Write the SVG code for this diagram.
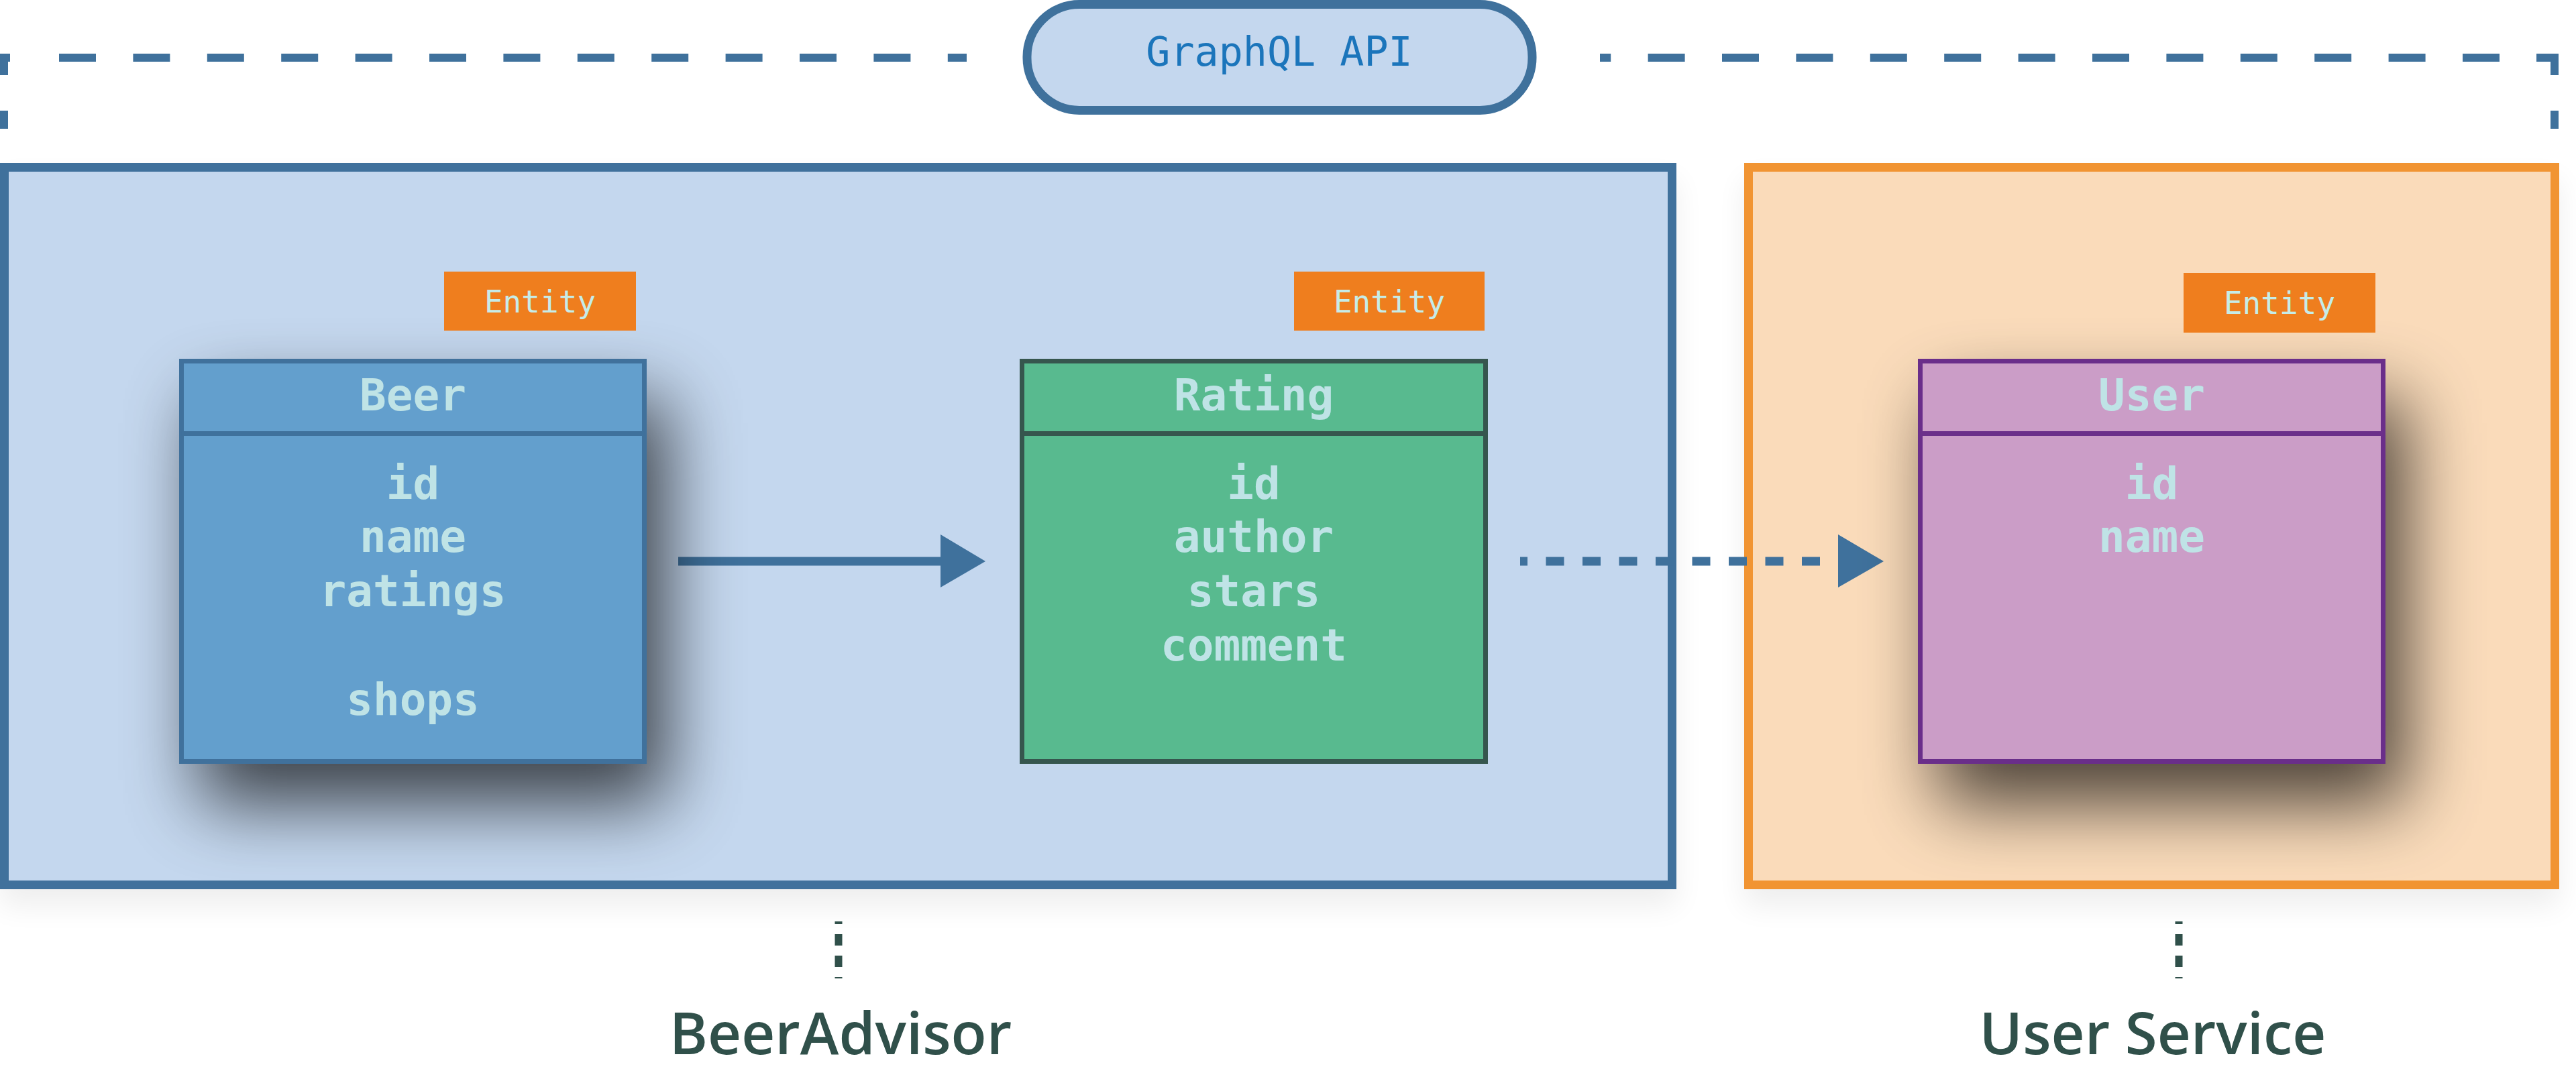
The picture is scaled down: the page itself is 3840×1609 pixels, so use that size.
<svg xmlns="http://www.w3.org/2000/svg" width="3840" height="1609" viewBox="0 0 3840 1609">
<defs>
<style>
.mono{font-family:"DejaVu Sans Mono","Liberation Mono",monospace;}
.field{font-family:"DejaVu Sans Mono","Liberation Mono",monospace;font-size:66px;font-weight:bold;fill:#BFE3E6;text-anchor:middle;}
.ent{font-family:"DejaVu Sans Mono","Liberation Mono",monospace;font-size:46px;fill:#C6ECE8;text-anchor:middle;}
.entbox{fill:#EF7E1E;}
.svc{font-family:"Open Sans","Liberation Sans",sans-serif;font-size:87px;font-weight:600;fill:#30504A;text-anchor:middle;}
.edge{stroke:#3F719C;stroke-width:13;fill:none;}
.tick{stroke:#30504A;stroke-width:11;fill:none;stroke-dasharray:17 15;stroke-dashoffset:13;}
.bracket{stroke:#3F719C;stroke-width:12;fill:none;}
</style>
<filter id="nsh" x="-70%" y="-70%" width="240%" height="240%">
<feGaussianBlur in="SourceAlpha" stdDeviation="55"/>
<feOffset dx="30" dy="60"/>
<feComponentTransfer><feFuncA type="linear" slope="0.7"/></feComponentTransfer>
<feMerge><feMergeNode/><feMergeNode in="SourceGraphic"/></feMerge>
</filter>
<filter id="bsh" x="-10%" y="-10%" width="120%" height="125%">
<feGaussianBlur in="SourceAlpha" stdDeviation="22"/>
<feOffset dx="0" dy="25"/>
<feComponentTransfer><feFuncA type="linear" slope="0.07"/></feComponentTransfer>
<feMerge><feMergeNode/><feMergeNode in="SourceGraphic"/></feMerge>
</filter>
</defs>
<rect x="0" y="0" width="3840" height="1609" fill="#FFFFFF"/>

<g id="api-bracket">
<path class="bracket" d="M6 192 V86 H1441" stroke-dasharray="27 53 35 73 55 55.4 55 55.4 55 55.4 55 55.4 55 55.4 55 55.4 55 55.4 55 55.4 55 55.4 55 55.4 55 55.4 55 55.4 55 55.4"/>
<path class="bracket" d="M3808 192 V86 H2385" stroke-dasharray="27 53 53 55 55 55.4 55 55.4 55 55.4 55 55.4 55 55.4 55 55.4 55 55.4 55 55.4 55 55.4 55 55.4 55 55.4 55 55.4 55 55.4"/>
</g>

<g id="graphql-api">
<rect x="1531" y="6.5" width="753" height="158" rx="78" ry="78" fill="#C4D7EE" stroke="#3F719C" stroke-width="13"/>
<text class="mono" x="1907" y="98" font-size="60" fill="#1B75BB" text-anchor="middle">GraphQL API</text>
</g>

<g id="beeradvisor">
<rect x="6.5" y="249.5" width="2486" height="1070" fill="#C4D7EE" stroke="#3F719C" stroke-width="13" filter="url(#bsh)"/>
</g>

<g id="user-service">
<rect x="2606.5" y="249.5" width="1202" height="1070" fill="#FADBBA" stroke="#F19433" stroke-width="13" filter="url(#bsh)"/>
</g>

<g id="connectors">
<line class="edge" x1="1011" y1="837" x2="1404" y2="837"/>
<polygon points="1402,797 1469,837 1402,876" fill="#3F719C"/>
<line class="edge" x1="2266" y1="837" x2="2740" y2="837" stroke-dasharray="27 27.5" stroke-dashoffset="16"/>
<polygon points="2740,797 2808,837 2740,876" fill="#3F719C"/>
<path class="tick" d="M1250 1374 V1459"/>
<path class="tick" d="M3248 1374 V1459"/>
</g>

<g id="beer">
<rect x="270.5" y="538.5" width="690" height="597" fill="#639FCD" stroke="#3F719C" stroke-width="7" filter="url(#nsh)"/>
<line x1="270.5" y1="646.5" x2="960.5" y2="646.5" stroke="#3F719C" stroke-width="7"/>
<text class="field" x="615.5" y="612">Beer</text>
<text class="field" x="615.5" y="744">id</text>
<text class="field" x="615.5" y="823">name</text>
<text class="field" x="615.5" y="904">ratings</text>
<text class="field" x="615.5" y="1066">shops</text>
</g>
<g id="beer-entity">
<rect class="entbox" x="662" y="405" width="286" height="88"/>
<text class="ent" x="805" y="466">Entity</text>
</g>

<g id="rating">
<rect x="1523.5" y="538.5" width="691" height="597" fill="#58BA8F" stroke="#36564E" stroke-width="7"/>
<line x1="1523.5" y1="646.5" x2="2214.5" y2="646.5" stroke="#36564E" stroke-width="7"/>
<text class="field" x="1869" y="612">Rating</text>
<text class="field" x="1869" y="744">id</text>
<text class="field" x="1869" y="823">author</text>
<text class="field" x="1869" y="904">stars</text>
<text class="field" x="1869" y="985">comment</text>
</g>
<g id="rating-entity">
<rect class="entbox" x="1929" y="405" width="284" height="88"/>
<text class="ent" x="2071" y="466">Entity</text>
</g>

<g id="user">
<rect x="2862.5" y="538.5" width="690" height="597" fill="#CB9DC7" stroke="#6B2F8A" stroke-width="7" filter="url(#nsh)"/>
<line x1="2862.5" y1="646.5" x2="3552.5" y2="646.5" stroke="#6B2F8A" stroke-width="7"/>
<text class="field" x="3207.5" y="612">User</text>
<text class="field" x="3207.5" y="744">id</text>
<text class="field" x="3207.5" y="823">name</text>
</g>
<g id="user-entity">
<rect class="entbox" x="3255" y="407" width="286" height="89"/>
<text class="ent" x="3398" y="468">Entity</text>
</g>

<g id="labels">
<text class="svc" x="1253" y="1572">BeerAdvisor</text>
<text class="svc" x="3209" y="1572">User Service</text>
</g>
</svg>
